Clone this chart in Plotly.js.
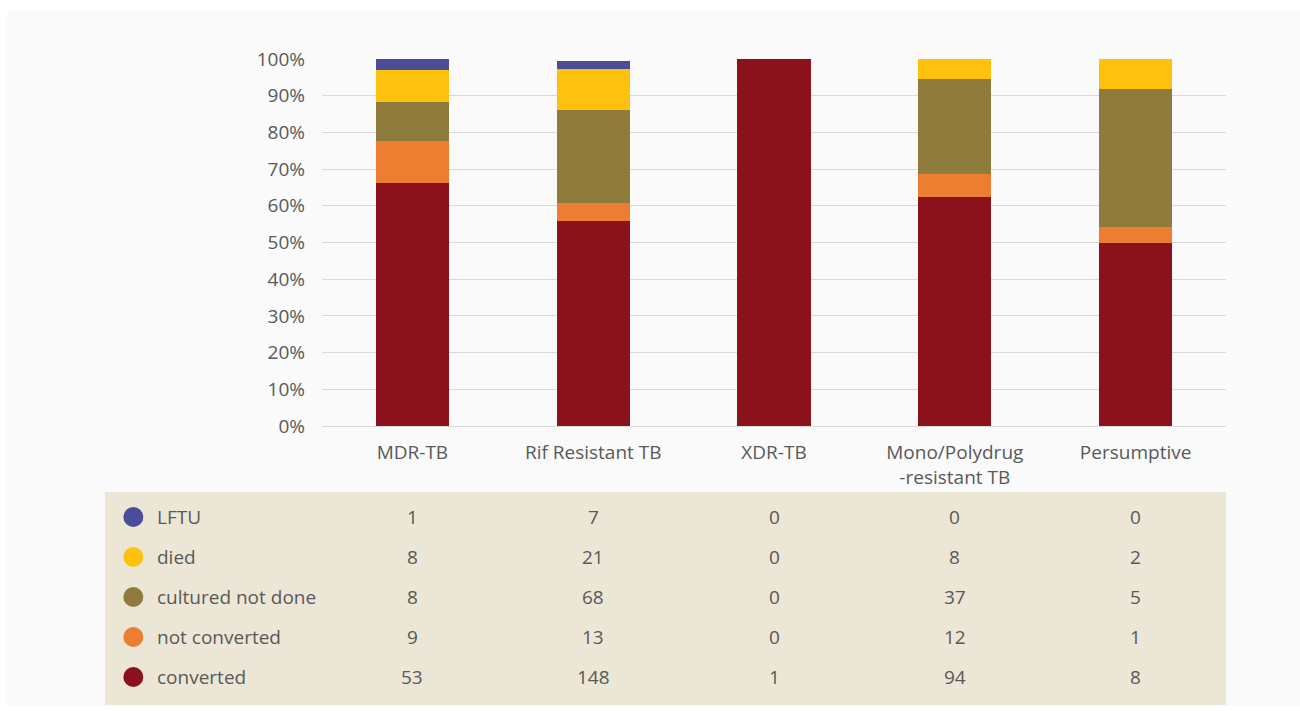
<!DOCTYPE html>
<html>
<head>
<meta charset="utf-8">
<script src="https://cdn.plot.ly/plotly-3.0.1.min.js"></script>
<style>
  html, body { margin: 0; padding: 0; background: #ffffff; }
  #chart { position: absolute; left: 7px; top: 11px; width: 1293px; height: 695px; }
</style>
</head>
<body>
<div id="chart"></div>
<script>
// Categories and tick labels
const categories = ['MDR-TB', 'Rif Resistant TB', 'XDR-TB', 'Mono/Polydrug -resistant TB', 'Persumptive'];
const tickLabels = ['MDR-TB', 'Rif Resistant TB', 'XDR-TB', 'Mono/Polydrug<br>-resistant TB', 'Persumptive'];

// Series names (legend/table rows, top to bottom)
const seriesNames = ['LFTU', 'died', 'cultured not done', 'not converted', 'converted'];

// Bar segment heights (% of each bar, as drawn)
const pctConverted    = [66.2, 55.9, 100, 62.4, 49.9];
const pctNotConverted = [11.5,  4.9,   0,  6.3,  4.3];
const pctCultured     = [10.6, 25.3,   0, 25.8, 37.6];
const pctDied         = [ 8.7, 11.2,   0,  5.5,  8.2];
const pctLFTU         = [ 3.0,  2.2,   0,  0,    0  ];

// Data table counts
const cntLFTU         = [1,   7,  0,  0, 0];
const cntDied         = [8,  21,  0,  8, 2];
const cntCultured     = [8,  68,  0, 37, 5];
const cntNotConverted = [9,  13,  0, 12, 1];
const cntConverted    = [53, 148, 1, 94, 8];

// Y tick values and labels
const yTicks = [0, 10, 20, 30, 40, 50, 60, 70, 80, 90, 100];
const yTickLabels = ['0%', '10%', '20%', '30%', '40%', '50%', '60%', '70%', '80%', '90%', '100%'];

const colors = {
  'converted': '#8B121D',
  'not converted': '#ED7D31',
  'cultured not done': '#8F7B3C',
  'died': '#FEC20E',
  'LFTU': '#4B4D9A'
};

const stack = [
  ['converted', pctConverted],
  ['not converted', pctNotConverted],
  ['cultured not done', pctCultured],
  ['died', pctDied],
  ['LFTU', pctLFTU]
];

const traces = stack.map(([name, vals]) => ({
  type: 'bar',
  name: name,
  x: categories,
  y: vals,
  marker: { color: colors[name], line: { width: 0 } },
  hoverinfo: 'skip'
}));

const textColor = '#595959';
const fontFamily = '"Open Sans", "Liberation Sans", sans-serif';
const fs = 19;

// Table geometry (paper coords)
const rowY = [-0.2480, -0.3569, -0.4659, -0.5749, -0.6839];
const tableCounts = [cntLFTU, cntDied, cntCultured, cntNotConverted, cntConverted];

const shapes = [{
  type: 'rect', xref: 'paper', yref: 'paper', layer: 'below',
  x0: -0.2400, x1: 1.0, y0: -0.7602, y1: -0.1798,
  fillcolor: '#ECE6D6', line: { width: 0 }
}];
const annotations = [];

seriesNames.forEach((name, i) => {
  shapes.push({
    type: 'circle', xref: 'paper', yref: 'paper',
    xsizemode: 'pixel', ysizemode: 'pixel',
    xanchor: -0.2087, yanchor: rowY[i],
    x0: -10, x1: 10, y0: -10, y1: 10,
    fillcolor: colors[name], line: { width: 0 }
  });
  annotations.push({
    xref: 'paper', yref: 'paper', x: -0.1850, y: rowY[i],
    xanchor: 'left', yanchor: 'middle', showarrow: false,
    text: name, font: { family: fontFamily, size: fs, color: textColor }
  });
  categories.forEach((cat, j) => {
    annotations.push({
      xref: 'x', yref: 'paper', x: cat, y: rowY[i],
      xanchor: 'center', yanchor: 'middle', showarrow: false,
      text: String(tableCounts[i][j]),
      font: { family: fontFamily, size: fs, color: textColor }
    });
  });
});

const layout = {
  width: 1293,
  height: 695,
  paper_bgcolor: '#FAFAFA',
  plot_bgcolor: '#FAFAFA',
  margin: { l: 315, r: 74, t: 48, b: 280 },
  barmode: 'stack',
  bargap: 0.596,
  showlegend: false,
  font: { family: fontFamily, size: fs, color: textColor },
  xaxis: {
    type: 'category',
    tickmode: 'array',
    tickvals: categories,
    ticktext: tickLabels,
    range: [-0.5, 4.5],
    showgrid: false,
    showline: false,
    zeroline: false,
    ticks: '',
    ticklabelstandoff: 13,
    tickfont: { family: fontFamily, size: fs, color: textColor }
  },
  yaxis: {
    range: [0, 100],
    tickmode: 'array',
    tickvals: yTicks,
    ticktext: yTickLabels,
    showgrid: true,
    gridcolor: '#D9D9D9',
    gridwidth: 1,
    zeroline: true,
    zerolinecolor: '#D9D9D9',
    zerolinewidth: 1,
    showline: false,
    ticks: '',
    ticklabelstandoff: 16,
    tickfont: { family: fontFamily, size: fs, color: textColor }
  },
  shapes: shapes,
  annotations: annotations
};

Plotly.newPlot('chart', traces, layout, { displayModeBar: false, staticPlot: true });
</script>
</body>
</html>
